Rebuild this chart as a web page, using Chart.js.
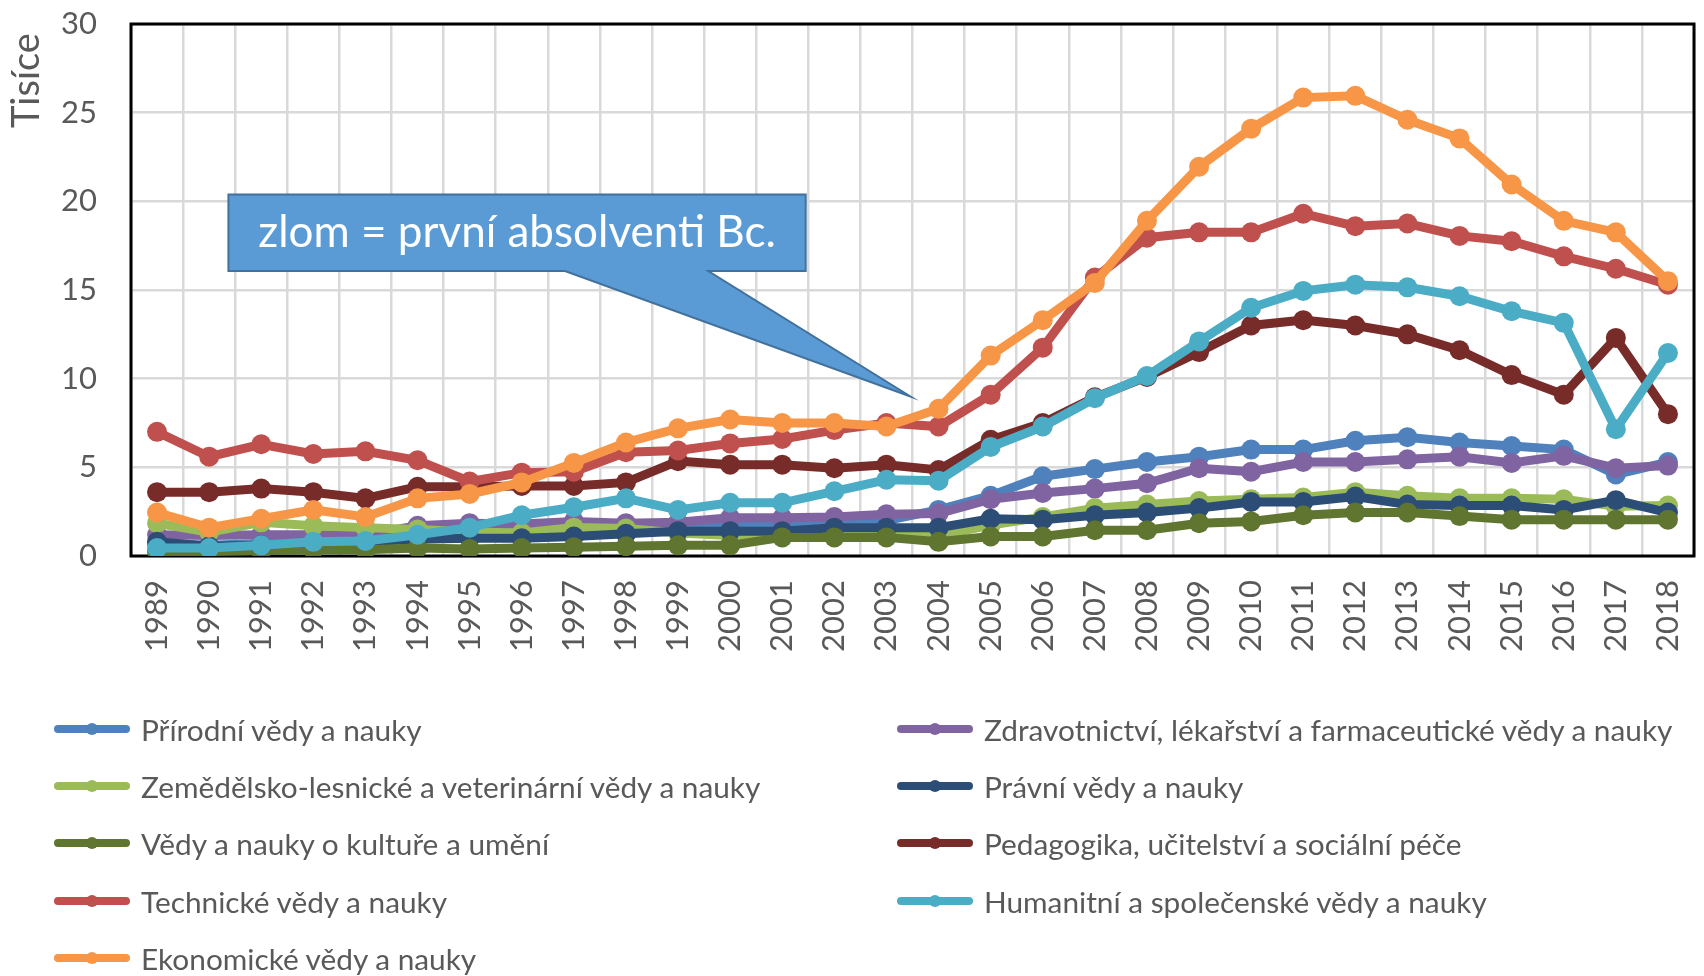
<!DOCTYPE html>
<html lang="cs">
<head>
<meta charset="utf-8">
<title>Absolventi VŠ podle skupin oborů</title>
<script src="https://cdn.jsdelivr.net/npm/chart.js@4.4.0/dist/chart.umd.min.js"></script>
<style>
  html, body { margin: 0; padding: 0; background: #fff; }
  #wrap { position: relative; width: 1704px; height: 976px; }
  #legenda { position: absolute; left: 0; top: 0; width: 1704px; height: 976px; pointer-events: none;
             font-family: Lato, "Open Sans", sans-serif; color: #595959; }
  .polozka { position: absolute; display: flex; align-items: center; height: 40px; font-size: 29.8px; white-space: nowrap; }
  .vzorek { position: relative; width: 76px; height: 8px; border-radius: 4px; margin-right: 11px; }
  .vzorek span { position: absolute; left: 32px; top: -2px; width: 12px; height: 12px; border-radius: 50%; }
</style>
</head>
<body>
<div id="wrap">
  <canvas id="graf"></canvas>
  <div id="legenda"></div>
</div>
<script>
// ---------------------------------------------------------------
// data (tisíce absolventů)
// ---------------------------------------------------------------
const ROKY = ['1989', '1990', '1991', '1992', '1993', '1994', '1995', '1996', '1997', '1998',
              '1999', '2000', '2001', '2002', '2003', '2004', '2005', '2006', '2007', '2008',
              '2009', '2010', '2011', '2012', '2013', '2014', '2015', '2016', '2017', '2018'];

const PRIRODNI    = [0.7, 0.6, 0.7, 0.8, 0.9, 1.1, 1.5, 1.4, 1.4, 1.5, 1.6, 1.7, 1.7, 1.8, 2.0, 2.6, 3.4, 4.5, 4.9, 5.3, 5.6, 6.0, 6.0, 6.5, 6.7, 6.4, 6.2, 6.0, 4.6, 5.3];
const ZDRAVOTNI   = [1.2, 1.15, 1.2, 1.2, 1.2, 1.7, 1.85, 1.8, 1.95, 1.85, 1.9, 2.15, 2.15, 2.2, 2.35, 2.4, 3.2, 3.55, 3.8, 4.1, 4.95, 4.75, 5.3, 5.3, 5.45, 5.6, 5.25, 5.65, 4.95, 5.1];
const ZEMEDELSKE  = [1.85, 1.35, 1.9, 1.7, 1.6, 1.5, 1.35, 1.3, 1.6, 1.55, 1.3, 1.15, 1.2, 1.3, 1.3, 1.15, 1.75, 2.2, 2.7, 2.9, 3.1, 3.2, 3.3, 3.6, 3.4, 3.25, 3.25, 3.2, 2.8, 2.85];
const PRAVNI      = [0.8, 0.55, 0.6, 0.7, 0.8, 0.95, 1.0, 1.0, 1.1, 1.25, 1.4, 1.4, 1.4, 1.6, 1.6, 1.6, 2.1, 2.05, 2.3, 2.45, 2.7, 3.05, 3.05, 3.35, 2.9, 2.85, 2.85, 2.6, 3.15, 2.45];
const KULTURA     = [0.25, 0.25, 0.3, 0.35, 0.35, 0.45, 0.4, 0.45, 0.5, 0.55, 0.6, 0.6, 1.05, 1.05, 1.05, 0.8, 1.1, 1.1, 1.45, 1.45, 1.85, 1.95, 2.3, 2.45, 2.45, 2.25, 2.05, 2.05, 2.05, 2.05];
const PEDAGOGIKA  = [3.6, 3.6, 3.8, 3.6, 3.25, 3.9, 3.9, 3.95, 3.95, 4.15, 5.35, 5.15, 5.15, 4.95, 5.15, 4.85, 6.55, 7.5, 8.95, 10.1, 11.5, 13.0, 13.3, 13.0, 12.5, 11.6, 10.2, 9.1, 12.3, 8.0];
const TECHNICKE   = [7.0, 5.6, 6.3, 5.75, 5.9, 5.4, 4.2, 4.7, 4.75, 5.85, 5.95, 6.35, 6.6, 7.1, 7.5, 7.3, 9.1, 11.75, 15.7, 17.95, 18.25, 18.25, 19.3, 18.6, 18.75, 18.05, 17.75, 16.9, 16.2, 15.3];
const HUMANITNI   = [0.45, 0.45, 0.6, 0.8, 0.85, 1.2, 1.6, 2.3, 2.75, 3.25, 2.6, 3.0, 3.0, 3.65, 4.3, 4.25, 6.15, 7.3, 8.9, 10.15, 12.1, 14.0, 14.95, 15.3, 15.15, 14.65, 13.8, 13.15, 7.15, 11.45];
const EKONOMICKE  = [2.45, 1.6, 2.1, 2.6, 2.2, 3.25, 3.5, 4.15, 5.25, 6.4, 7.2, 7.7, 7.5, 7.5, 7.3, 8.3, 11.3, 13.3, 15.4, 18.9, 21.95, 24.1, 25.85, 25.95, 24.6, 23.55, 20.95, 18.9, 18.25, 15.5];

const NAZVY = [
  'Přírodní vědy a nauky',
  'Zdravotnictví, lékařství a farmaceutické vědy a nauky',
  'Zemědělsko-lesnické a veterinární vědy a nauky',
  'Právní vědy a nauky',
  'Vědy a nauky o kultuře a umění',
  'Pedagogika, učitelství a sociální péče',
  'Technické vědy a nauky',
  'Humanitní a společenské vědy a nauky',
  'Ekonomické vědy a nauky'
];
const SERIE = [PRIRODNI, ZDRAVOTNI, ZEMEDELSKE, PRAVNI, KULTURA, PEDAGOGIKA, TECHNICKE, HUMANITNI, EKONOMICKE];
const BARVY = ['#4F81BD', '#8064A2', '#9BBB59', '#2C4D75', '#5F7530', '#772C2A', '#C0504D', '#4BACC6', '#F79646'];

const Y_TICKY = [0, 5, 10, 15, 20, 25, 30];
const Y_NAZEV = 'Tisíce';
const POPISEK = 'zlom = první absolventi Bc.';

// bublina s popiskem, v jednotkách os (index kategorie, tisíce)
const BUBLINA = { x0: 1.37, x1: 12.45, y0: 20.38, y1: 16.07, pataL: 7.83, pataP: 10.58, spickaX: 14.46, spickaY: 9.0 };

const SEDA = '#595959';
const FONT = 'Lato, "Open Sans", sans-serif';

// ---------------------------------------------------------------
// pluginy
// ---------------------------------------------------------------
const ramecek = {
  id: 'ramecek',
  beforeDatasetsDraw(chart) {
    const { ctx, chartArea: a } = chart;
    ctx.save();
    ctx.strokeStyle = '#000';
    ctx.lineWidth = 3;
    ctx.strokeRect(a.left, a.top, a.right - a.left, a.bottom - a.top);
    ctx.restore();
  }
};

// název osy y nahoře vlevo, čte se zdola nahoru
const nazevOsy = {
  id: 'nazevOsy',
  afterDraw(chart) {
    const { ctx, chartArea: a } = chart;
    ctx.save();
    ctx.translate(27, a.top + 104);
    ctx.rotate(-Math.PI / 2);
    ctx.fillStyle = SEDA;
    ctx.font = '38px ' + FONT;
    ctx.textAlign = 'left';
    ctx.textBaseline = 'middle';
    ctx.fillText(Y_NAZEV, 0, 0);
    ctx.restore();
  }
};

const bublina = {
  id: 'bublina',
  afterDatasetsDraw(chart) {
    const { ctx } = chart;
    const sx = chart.scales.x, sy = chart.scales.y;
    const X = v => sx.getPixelForValue(v), Y = v => sy.getPixelForValue(v);
    const b = BUBLINA;
    ctx.save();
    ctx.beginPath();
    ctx.moveTo(X(b.x0), Y(b.y0));
    ctx.lineTo(X(b.x1), Y(b.y0));
    ctx.lineTo(X(b.x1), Y(b.y1));
    ctx.lineTo(X(b.pataP), Y(b.y1));
    ctx.lineTo(X(b.spickaX), Y(b.spickaY));
    ctx.lineTo(X(b.pataL), Y(b.y1));
    ctx.lineTo(X(b.x0), Y(b.y1));
    ctx.closePath();
    ctx.fillStyle = '#5B9BD5';
    ctx.fill();
    ctx.strokeStyle = '#41719C';
    ctx.lineWidth = 2;
    ctx.stroke();
    ctx.fillStyle = '#fff';
    ctx.font = '44px ' + FONT;
    ctx.textAlign = 'center';
    ctx.textBaseline = 'middle';
    ctx.fillText(POPISEK, (X(b.x0) + X(b.x1)) / 2, (Y(b.y0) + Y(b.y1)) / 2);
    ctx.restore();
  }
};

// ---------------------------------------------------------------
// graf
// ---------------------------------------------------------------
const datasety = SERIE.map((data, i) => ({
  label: NAZVY[i],
  data: data,
  borderColor: BARVY[i],
  backgroundColor: BARVY[i],
  pointBackgroundColor: BARVY[i],
  pointBorderWidth: 0,
  pointRadius: 10,
  borderWidth: 9,
  tension: 0,
  order: SERIE.length - i   // poslední řada nahoře
}));

const graf = new Chart(document.getElementById('graf'), {
  type: 'line',
  data: { labels: ROKY, datasets: datasety },
  options: {
    responsive: true,
    maintainAspectRatio: false,
    animation: false,
    layout: { padding: { top: 24, right: 1, bottom: 296, left: 0 } },
    plugins: { legend: { display: false }, tooltip: { enabled: false } },
    scales: {
      x: {
        offset: true,
        grid: { offset: true, color: '#D9D9D9', lineWidth: 2.5, drawTicks: false },
        border: { display: false },
        ticks: { autoSkip: false, minRotation: 90, maxRotation: 90, padding: 24, color: SEDA, font: { family: FONT, size: 31 } },
        afterFit(s) { s.height = 124; s.paddingLeft = 0; s.paddingRight = 0; }
      },
      y: {
        min: 0, max: 30,
        afterBuildTicks(s) { s.ticks = Y_TICKY.map(v => ({ value: v })); },
        grid: { color: '#D9D9D9', lineWidth: 2.5, drawTicks: false },
        border: { display: false },
        ticks: { padding: 34, color: SEDA, font: { family: FONT, size: 31 } },
        afterFit(s) { s.width = 131; s.paddingTop = 0; s.paddingBottom = 0; }
      }
    }
  },
  plugins: [ramecek, bublina, nazevOsy]
});

// ---------------------------------------------------------------
// legenda ve dvou sloupcích
// ---------------------------------------------------------------
const SLOUPCE = [54, 897];
const RADKY = [729, 786, 843, 901, 958];
const legenda = document.getElementById('legenda');
NAZVY.forEach((nazev, i) => {
  const el = document.createElement('div');
  el.className = 'polozka';
  el.style.left = SLOUPCE[i % 2] + 'px';
  el.style.top = (RADKY[Math.floor(i / 2)] - 20) + 'px';
  el.innerHTML = `<div class="vzorek" style="background:${BARVY[i]}"><span style="background:${BARVY[i]}"></span></div>`;
  el.appendChild(document.createTextNode(nazev));
  legenda.appendChild(el);
});
</script>
</body>
</html>
